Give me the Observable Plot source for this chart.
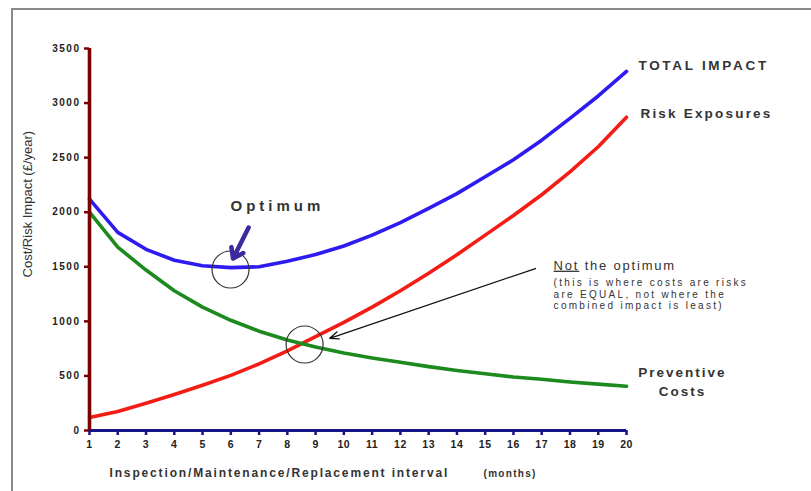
<!DOCTYPE html>
<html>
<head>
<meta charset="utf-8">
<script src="https://cdn.jsdelivr.net/npm/d3@7"></script>
<script src="https://cdn.jsdelivr.net/npm/@observablehq/plot@0.6"></script>
<style>
  html, body { margin: 0; padding: 0; background: #fff; }
  #wrap { position: relative; width: 811px; height: 491px; overflow: hidden; font-family: Arial, "Liberation Sans", sans-serif; }
  #frame { position: absolute; left: 11px; top: 8px; width: 900px; height: 600px; border-left: 2px solid #8a8a8a; border-top: 2px solid #8a8a8a; }
  #chart { position: absolute; left: 0; top: 0; }
</style>
</head>
<body>
<div id="wrap"><div id="frame"></div><div id="chart"></div></div>
<script>
// ---- data ----
const months = [1, 2, 3, 4, 5, 6, 7, 8, 9, 10, 11, 12, 13, 14, 15, 16, 17, 18, 19, 20];
const totalImpact = [2120, 1815, 1660, 1560, 1510, 1492, 1500, 1550, 1612, 1690, 1790, 1905, 2035, 2170, 2325, 2480, 2660, 2860, 3065, 3290];
const riskExposures = [120, 175, 250, 330, 415, 505, 610, 730, 860, 990, 1130, 1280, 1440, 1610, 1790, 1970, 2160, 2370, 2600, 2870];
const preventiveCosts = [2000, 1680, 1470, 1280, 1130, 1010, 910, 830, 765, 710, 665, 625, 585, 550, 520, 490, 470, 445, 425, 405];
const seriesNames = ["TOTAL IMPACT", "Risk Exposures", "Preventive Costs"];
const yTicks = [0, 500, 1000, 1500, 2000, 2500, 3000, 3500];
const xTicks = months;
const yLabel = "Cost/Risk Impact (£/year)";
const xLabel = "Inspection/Maintenance/Replacement interval";
const xUnit = "(months)";

// ---- build table ----
const seriesValues = [totalImpact, riskExposures, preventiveCosts];
const rows = [];
seriesNames.forEach((s, i) => months.forEach((m, j) => rows.push({series: s, month: m, value: seriesValues[i][j]})));

// ---- styling / annotation placement (data units) ----
const colors = {"TOTAL IMPACT": "#2e1bf2", "Risk Exposures": "#f41d16", "Preventive Costs": "#1d8a1f"};
const seriesLabels = [
  {text: "TOTAL IMPACT", x: 22.73, y: 3363},
  {text: "Risk Exposures", x: 22.83, y: 2923},
  {text: "Preventive\nCosts", x: 21.98, y: 455}
];
const circles = [{x: 5.99, y: 1475}, {x: 8.61, y: 788}];
const optimumArrow = [{x1: 6.63, y1: 1860, x2: 6.08, y2: 1575}];
const notArrow = [{x1: 16.78, y1: 1484, x2: 9.5, y2: 845}];
const optimumText = [{text: "Optimum", x: 5.99, y: 2052}];
const noteText = [{text: "Not the optimum", x: 17.42, y: 1512, size: 13},
  {text: "(this is where costs are risks", x: 17.42, y: 1350, size: 10},
  {text: "are EQUAL, not where the", x: 17.42, y: 1245, size: 10},
  {text: "combined impact is least)", x: 17.42, y: 1140, size: 10}];
const font = "Arial, 'Liberation Sans', sans-serif";
const txt = "#333";

const plot = Plot.plot({
  width: 811, height: 491,
  marginLeft: 89, marginRight: 185, marginTop: 48, marginBottom: 61,
  style: {background: "transparent", fontFamily: font, overflow: "visible"},
  x: {domain: [1, 20]},
  y: {domain: [0, 3500]},
  marks: [
    Plot.line(rows, {x: "month", y: "value", z: "series", stroke: d => colors[d.series], strokeWidth: 3.6, curve: "linear"}),
    // axes
    Plot.axisY({ticks: yTicks, tickSize: 5, tickPadding: 4, stroke: "#7a0000", strokeWidth: 2.5, fill: "#222", fontSize: 10, fontWeight: "bold", tickFormat: d => String(d), label: null}),
    Plot.axisX({ticks: xTicks, tickSize: 5, tickPadding: 5, stroke: "#15158a", strokeWidth: 2.5, fill: "#222", fontSize: 10.5, fontWeight: "bold", tickFormat: d => String(d), label: null}),
    Plot.ruleY([0], {x1: 1, x2: 20, stroke: "#15158a", strokeWidth: 3.2}),
    Plot.ruleX([1], {y1: 0, y2: 3500, stroke: "#7a0000", strokeWidth: 3.6}),
    // axis titles
    Plot.text([yLabel], {frameAnchor: "left", y: 1402, dx: -62, rotate: -90, fontSize: 13, fill: "#333", text: d => d}),
    Plot.text([xLabel], {frameAnchor: "bottom-left", dx: 20, dy: 46, fontSize: 12, fontWeight: "bold", fill: txt, textAnchor: "start", text: d => d}),
    Plot.text([xUnit], {frameAnchor: "bottom-left", dx: 394, dy: 46, fontSize: 10, fontWeight: "bold", fill: txt, textAnchor: "start", text: d => d}),
    // series labels
    Plot.text(seriesLabels, {x: "x", y: "y", text: "text", fontSize: 13.5, fontWeight: "bold", fill: txt, lineHeight: 1.4}),
    // annotations
    Plot.dot(circles, {x: "x", y: "y", r: 18.5, stroke: "#333", strokeWidth: 1.2, fill: "none"}),
    Plot.arrow(optimumArrow, {x1: "x1", y1: "y1", x2: "x2", y2: "y2", stroke: "#3a2a9e", strokeWidth: 4.5, headLength: 9, headAngle: 70}),
    Plot.arrow(notArrow, {x1: "x1", y1: "y1", x2: "x2", y2: "y2", stroke: "#111", strokeWidth: 1.3, headLength: 11, headAngle: 45}),
    Plot.text(optimumText, {x: "x", y: "y", text: "text", fontSize: 15, fontWeight: "bold", fill: txt, textAnchor: "start"}),
    Plot.text(noteText, {x: "x", y: "y", text: "text", fontSize: d => d.size, fill: txt, textAnchor: "start"})
  ]
});
document.getElementById("chart").appendChild(plot);

// letter spacing & underline post-processing
const spacing = {"TOTAL IMPACT": 2.7, "Risk Exposures": 2.2, "Preventive": 2, "Costs": 2, "Optimum": 4,
  "Not the optimum": 1.8, "(this is where costs are risks": 2.3, "are EQUAL, not where the": 2.3, "combined impact is least)": 2.3,
  [xLabel]: 1.85, [xUnit]: 1.3};
d3.select(plot).selectAll("text").each(function() {
  const t = this.textContent;
  if (spacing[t] != null) this.style.letterSpacing = spacing[t] + "px";
  this.querySelectorAll("tspan").forEach(ts => { if (spacing[ts.textContent] != null) this.style.letterSpacing = spacing[ts.textContent] + "px"; });
  if (t === "Not the optimum") {
    this.textContent = "";
    const a = document.createElementNS("http://www.w3.org/2000/svg", "tspan");
    a.textContent = "Not"; a.setAttribute("text-decoration", "underline");
    const b = document.createElementNS("http://www.w3.org/2000/svg", "tspan");
    b.textContent = " the optimum";
    this.appendChild(a); this.appendChild(b);
  }
});
d3.select(plot).selectAll('g[aria-label="y-axis tick label"] text').style("letter-spacing", "1.5px");
d3.select(plot).selectAll('g[aria-label="x-axis tick label"] text').style("letter-spacing", "0.5px");
</script>
</body>
</html>
